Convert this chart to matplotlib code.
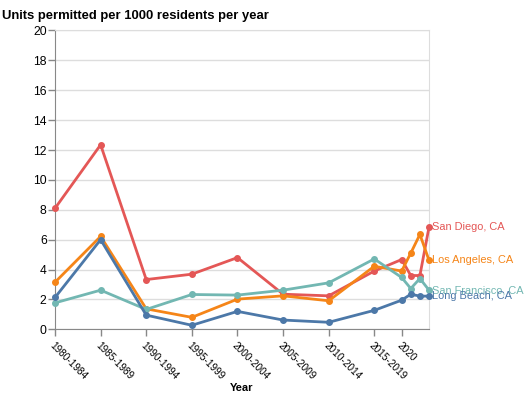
import matplotlib.pyplot as plt

# x positions (year at middle of each 5-year bin, then single years)
x_years = [1982, 1987, 1992, 1997, 2002, 2007, 2012, 2017, 2020, 2021, 2022, 2023]
tick_pos = [1982, 1987, 1992, 1997, 2002, 2007, 2012, 2017, 2020]
tick_labels = ["1980-1984", "1985-1989", "1990-1994", "1995-1999", "2000-2004",
               "2005-2009", "2010-2014", "2015-2019", "2020"]

san_diego = [8.1, 12.35, 3.33, 3.69, 4.8, 2.35, 2.24, 3.9, 4.67, 3.6, 3.6, 6.84]
los_angeles = [3.15, 6.22, 1.37, 0.8, 2.02, 2.24, 1.91, 4.22, 3.9, 5.1, 6.35, 4.62]
san_francisco = [1.77, 2.62, 1.33, 2.33, 2.29, 2.62, 3.11, 4.71, 3.47, 2.73, 3.4, 2.62]
long_beach = [2.13, 6.0, 0.95, 0.27, 1.2, 0.62, 0.47, 1.27, 1.95, 2.35, 2.22, 2.22]

cities = ["San Diego, CA", "Los Angeles, CA", "San Francisco, CA", "Long Beach, CA"]
series = [san_diego, los_angeles, san_francisco, long_beach]
colors = ["#e45756", "#f58518", "#72b7b2", "#4c78a8"]

plt.rcParams["font.family"] = ["Liberation Sans", "DejaVu Sans"]

fig = plt.figure(figsize=(5.29, 3.97), dpi=100)
ax = fig.add_axes([0.104, 0.1705, 0.707, 0.7527])

for name, vals, c in zip(cities, series, colors):
    ax.plot(x_years, vals, color=c, lw=2, marker="o", ms=4, zorder=3,
            clip_on=False)
    ax.text(x_years[-1] + 0.35, vals[-1], name, color=c, fontsize=7.9,
            va="center", ha="left", clip_on=False)

ax.set_xlim(1982, 2023)
ax.set_ylim(0, 20)
ax.set_yticks(range(0, 21, 2))
ax.yaxis.grid(True, color="#dddddd", lw=1)
ax.set_axisbelow(True)

ax.set_xticks(tick_pos)
ax.set_xticklabels(tick_labels, rotation=-45, ha="left", va="top",
                   rotation_mode="anchor", fontsize=7.2)
ax.tick_params(axis="y", labelsize=8.7, length=5, color="#888888", width=1, pad=1)
ax.tick_params(axis="x", length=5, color="#888888", width=1, pad=3)

for side in ["top", "right"]:
    ax.spines[side].set_color("#dddddd")
for side in ["left", "bottom"]:
    ax.spines[side].set_color("#888888")

ax.set_xlabel("Year", fontsize=8, fontweight="bold", labelpad=1)
fig.text(0.004, 0.975, "Units permitted per 1000 residents per year",
         fontsize=9.4, fontweight="bold", va="top", ha="left")

fig.savefig("out.png", dpi=100)
